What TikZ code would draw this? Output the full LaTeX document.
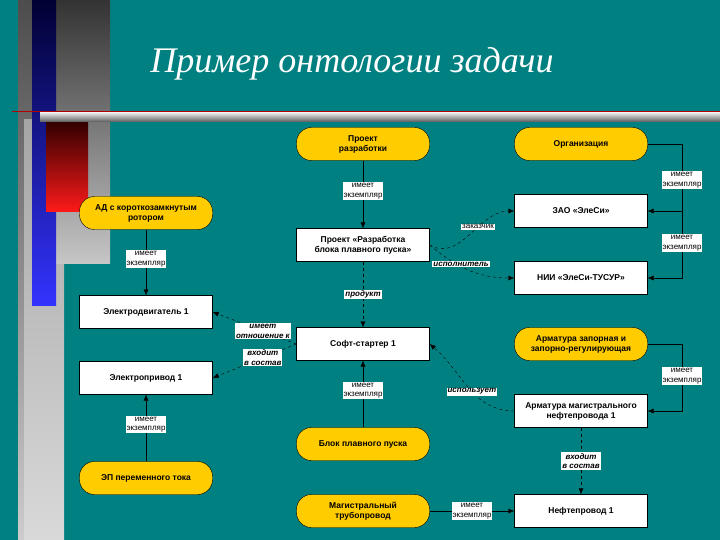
\documentclass[tikz,border=0pt]{standalone}
\usepackage{fontspec}
\setmainfont{Liberation Sans}
\newfontfamily\titlefont{Liberation Serif}
\usetikzlibrary{arrows.meta}
\definecolor{bg}{RGB}{0,128,128}
\definecolor{yel}{RGB}{255,204,0}
\tikzset{
 cls/.style={draw=black,fill=yel,rounded corners=15pt,minimum width=133pt,minimum height=33pt,align=center,font=\fontsize{8.5}{10}\selectfont\bfseries,inner sep=1pt},
 inst/.style={draw=black,fill=white,minimum width=133pt,minimum height=33pt,align=center,font=\fontsize{8.5}{10}\selectfont\bfseries,inner sep=1pt},
 lab/.style={fill=white,align=center,font=\fontsize{8}{9.5}\selectfont,inner sep=1pt},
 ilab/.style={lab,font=\fontsize{8}{9.5}\selectfont\bfseries\itshape},
 rel/.style={draw=black,-{Latex[length=6pt,width=5pt]}},
 drel/.style={rel,dashed},
}
\begin{document}
\begin{tikzpicture}[x=1pt,y=-1pt]
\fill[bg] (0,0) rectangle (720,540);
\useasboundingbox (0,0) rectangle (720,540);
% decorative bars
\shade[top color=gray!60!black,bottom color=gray!40] (18,0) rectangle (38,540);
\shade[top color=gray!70,bottom color=gray!30] (24,120) rectangle (64,540);
\shade[top color=black!80,bottom color=gray!45] (56,0) rectangle (110,263);
\shade[top color=black!80!blue,bottom color=blue!80!white] (32,0) rectangle (56,305);
\shade[top color=black!80!red,bottom color=red!90!white] (46,122) rectangle (88,212);
\draw[red!70!black,line width=0.8pt] (12,111) -- (720,111);
\shade[top color=gray!20,bottom color=gray!70!black] (40,113) rectangle (720,122);
\node[font=\titlefont\itshape\fontsize{36}{40}\selectfont,text=white] (title) at (352,64) {Пример онтологии задачи};
% nodes
\node[cls] (pr) at (363,144) {Проект\\разработки};
\node[cls] (org) at (581,144) {Организация};
\node[cls] (ad) at (146,213) {АД с короткозамкнутым\\ротором};
\node[inst] (zao) at (581,211) {ЗАО «ЭлеСи»};
\node[inst] (prj) at (363,245) {Проект «Разработка\\блока плавного пуска»};
\node[inst] (nii) at (581,278) {НИИ «ЭлеСи-ТУСУР»};
\node[inst] (ed) at (146,312) {Электродвигатель 1};
\node[inst] (soft) at (363,344) {Софт-стартер 1};
\node[cls] (arz) at (581,344) {Арматура запорная и\\запорно-регулирующая};
\node[inst] (ep) at (146,378) {Электропривод 1};
\node[inst] (arm) at (581,411) {Арматура магистрального\\нефтепровода 1};
\node[cls] (bpp) at (363,444) {Блок плавного пуска};
\node[cls] (epp) at (146,478) {ЭП переменного тока};
\node[cls] (mt) at (363,511) {Магистральный\\трубопровод};
\node[inst] (nef) at (581,511) {Нефтепровод 1};
\coordinate (c1) at (682,144);
\coordinate (c2) at (682,344);
% edges
\draw[rel] (pr) -- node[lab,pos=0.45]{имеет\\экземпляр} (prj);
\draw[rel] (ad) -- node[lab,pos=0.45]{имеет\\экземпляр} (ed);
\draw[rel] (org.east) -- (c1) |- (zao.east);
\draw[rel] (c1) |- (nii.east);
\node[lab] (l1) at (682,180) {имеет\\экземпляр};
\node[lab] (l2) at (682,243) {имеет\\экземпляр};
\draw[drel] (prj.east) to[out=-30,in=180] node[lab,pos=0.6,above=-2pt]{заказчик} (zao.west);
\draw[drel] (prj.east) to[out=-40,in=180] node[ilab,pos=0.4,above=-1pt]{исполнитель} (nii.west);
\draw[drel] (prj) -- node[ilab]{продукт} (soft);
\draw[drel] (soft.west) -- node[ilab,pos=0.4]{имеет\\отношение к} (ed.east);
\draw[drel] (soft.west) -- node[ilab,pos=0.4]{входит\\в состав} (ep.east);
\draw[rel] (bpp) -- node[lab,pos=0.55]{имеет\\экземпляр} (soft);
\draw[rel] (epp) -- node[lab,pos=0.55]{имеет\\экземпляр} (ep);
\draw[drel] (arm.west) to[out=180,in=-40] node[ilab,pos=0.45]{использует} (soft.east);
\draw[rel] (arz.east) -- (c2) |- (arm.east);
\node[lab] (l3) at (682,376) {имеет\\экземпляр};
\draw[drel] (arm) -- node[ilab]{входит\\в состав} (nef);
\draw[rel] (mt) -- node[lab]{имеет\\экземпляр} (nef);
\end{tikzpicture}
\end{document}
